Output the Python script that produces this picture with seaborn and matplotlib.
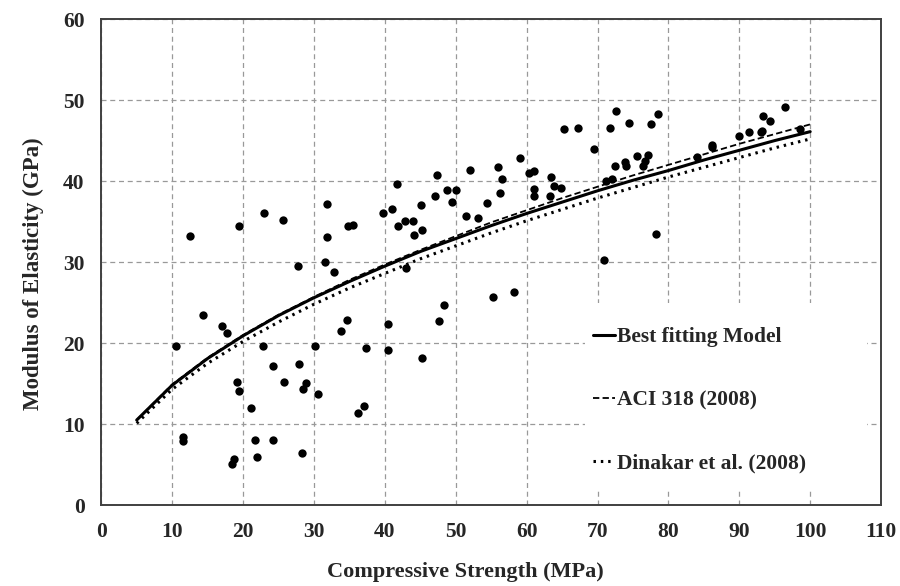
import numpy as np
import pandas as pd
import matplotlib
matplotlib.use("Agg")
import matplotlib.pyplot as plt
import seaborn as sns

# measured points (MPa, GPa)
fc = [10.5, 11.6, 11.6, 12.5, 14.3, 17.0, 17.8, 18.5, 18.7, 19.2, 19.4, 19.4,
      21.1, 21.7, 21.9, 22.8, 22.9, 24.2, 24.2, 25.6, 25.8, 27.8, 27.9, 28.3,
      28.4, 28.9, 30.2, 30.6, 31.6, 31.9, 31.9, 32.9, 33.8, 34.7, 34.8, 35.5,
      36.2, 37.0, 37.3, 39.8, 40.4, 40.4, 41.0, 41.7, 41.8, 42.8, 43.0, 44.0,
      44.1, 45.1, 45.2, 45.2, 47.1, 47.3, 47.6, 48.4, 48.8, 49.5, 50.1, 51.4,
      52.0, 53.2, 54.4, 55.2, 56.0, 56.3, 56.5, 58.2, 59.1, 60.4, 61.1, 61.1,
      61.1, 63.3, 63.4, 63.9, 64.8, 65.3, 67.2, 69.5, 70.9, 71.2, 71.7, 72.0,
      72.4, 72.6, 73.9, 74.0, 74.5, 75.6, 76.4, 76.7, 77.1, 77.6, 78.3, 78.6,
      84.0, 86.1, 86.2, 90.0, 91.4, 93.0, 93.2, 93.4, 94.3, 96.4, 98.5]
ec = [19.6, 8.4, 7.9, 33.2, 23.5, 22.1, 21.2, 5.1, 5.7, 15.2, 14.1, 34.5,
      12.0, 8.1, 5.9, 19.6, 36.0, 17.2, 8.1, 35.2, 15.2, 29.5, 17.4, 6.4,
      14.3, 15.1, 19.7, 13.7, 30.0, 37.2, 33.1, 28.8, 21.5, 22.8, 34.4, 34.6,
      11.4, 12.2, 19.4, 36.0, 22.3, 19.1, 36.5, 39.7, 34.4, 35.1, 29.3, 35.1,
      33.3, 37.1, 34.0, 18.1, 38.2, 40.7, 22.7, 24.7, 38.9, 37.4, 38.9, 35.7,
      41.4, 35.4, 37.3, 25.7, 41.7, 38.5, 40.2, 26.3, 42.8, 41.0, 41.2, 39.0,
      38.1, 38.2, 40.5, 39.4, 39.1, 46.4, 46.5, 43.9, 30.2, 40.0, 46.5, 40.3,
      41.8, 48.6, 42.3, 41.9, 47.2, 43.1, 41.8, 42.5, 43.2, 47.1, 33.5, 48.3,
      43.0, 44.4, 44.2, 45.6, 46.0, 46.0, 46.2, 48.0, 47.4, 49.2, 46.4]

# curves
curve_x = [5, 10, 15, 20, 25, 30, 35, 40, 45, 50, 55, 60, 65, 70, 75, 80, 85, 90, 95, 100]
best_fit = [10.5, 14.8, 18.1, 20.9, 23.4, 25.6, 27.6, 29.5, 31.3, 32.9, 34.5, 36.0,
            37.4, 38.8, 40.1, 41.3, 42.6, 43.8, 45.0, 46.1]
aci_318 = [10.5, 14.9, 18.2, 21.0, 23.5, 25.7, 27.8, 29.7, 31.5, 33.2, 34.9, 36.4,
           37.9, 39.3, 40.7, 42.0, 43.3, 44.6, 45.8, 47.0]
dinakar = [10.1, 14.3, 17.5, 20.2, 22.6, 24.8, 26.8, 28.6, 30.4, 32.0, 33.6, 35.1,
           36.5, 37.9, 39.2, 40.5, 41.7, 42.9, 44.1, 45.2]

sns.set_style("white")
plt.rcParams["font.family"] = ["Liberation Serif", "DejaVu Serif"]
plt.rcParams["font.weight"] = "bold"

fig = plt.figure(figsize=(9, 5.86), dpi=100)
ax = fig.add_axes([0.1125, 0.138, 0.8665, 0.8295])

sns.scatterplot(x=fc, y=ec, ax=ax, color="black", s=36, linewidth=0, zorder=3)
sns.lineplot(x=curve_x, y=best_fit, ax=ax, color="black", lw=2.2,
             label="Best fitting Model", zorder=4)
sns.lineplot(x=curve_x, y=aci_318, ax=ax, color="black", lw=1.3,
             linestyle=(0, (3.5, 1.8)), label="ACI 318 (2008)", zorder=4)
sns.lineplot(x=curve_x, y=dinakar, ax=ax, color="black", lw=2.2,
             linestyle=(0, (0.8, 1.6)), label="Dinakar et al. (2008)", zorder=4)

ax.set_xlim(0, 110)
ax.set_ylim(0, 60)
ax.set_xticks(range(0, 111, 10))
ax.set_yticks(range(0, 61, 10))
ax.grid(True, color="#999999", linestyle=(0, (4, 3)), lw=0.9)
for sp in ax.spines.values():
    sp.set_color("#404040")
    sp.set_linewidth(1.4)
ax.tick_params(direction="out", length=5, color="#aaaaaa", labelsize=15.5, pad=7)
for lab in ax.get_xticklabels() + ax.get_yticklabels():
    lab.set_fontweight("bold")

ax.set_xlabel("Compressive Strength (MPa)", fontsize=16, fontweight="bold")
ax.set_ylabel("Modulus of Elasticity (GPa)", fontsize=16.5, fontweight="bold")
ax.xaxis.set_label_coords(0.467, -0.118)
ax.yaxis.set_label_coords(-0.074, 0.477)

# white legend area hiding the grid, as in the original
ax.add_patch(plt.Rectangle((585 / 900, 1 - 490 / 586), 282 / 900, 187 / 586,
                           transform=fig.transFigure, facecolor="white",
                           edgecolor="none", zorder=2))
leg = ax.legend(loc="upper left", bbox_to_anchor=(593 / 900, 1 - 327 / 586),
                bbox_transform=fig.transFigure, frameon=False, fontsize=15.5,
                handlelength=1.0, handletextpad=0.1, labelspacing=2.0,
                borderpad=0, borderaxespad=0)
for t in leg.get_texts():
    t.set_fontweight("bold")

fig.savefig("out.png", dpi=100)
